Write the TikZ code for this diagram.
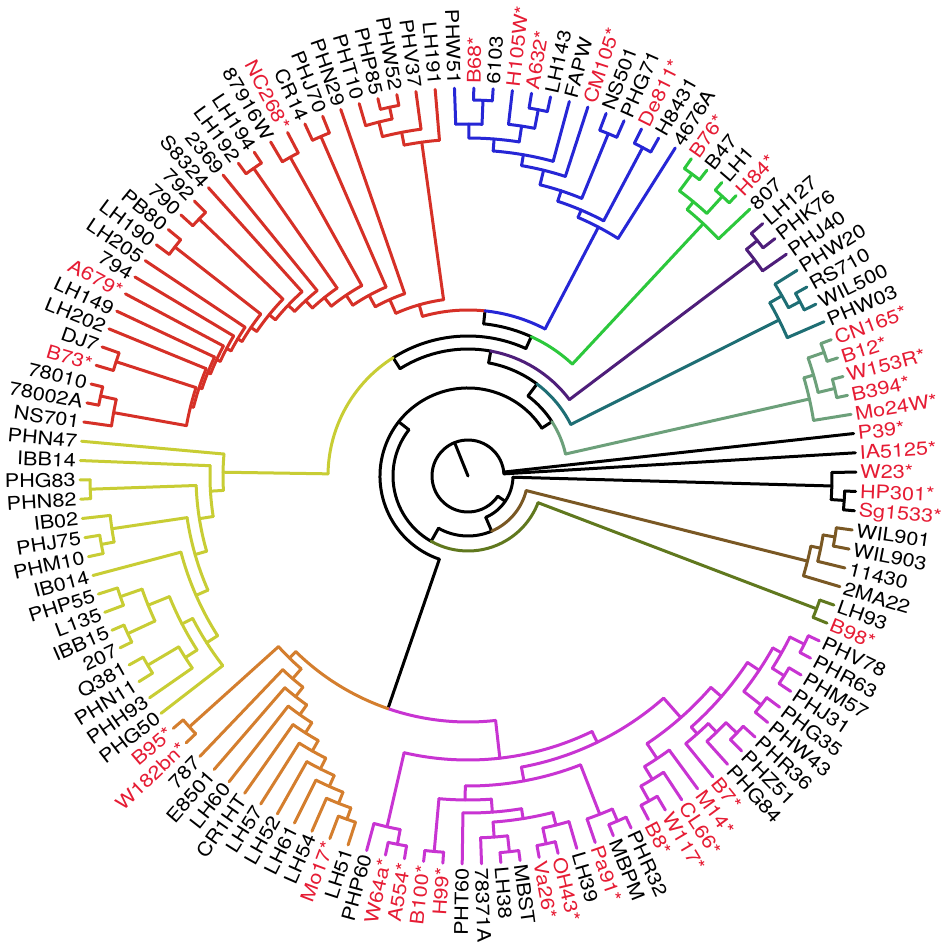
\documentclass[tikz,border=0pt]{standalone}
\usepackage{fontspec}
\setmainfont{TeX Gyre Heros}[FakeStretch=1.15]
\definecolor{rojo}{RGB}{214,48,39}
\definecolor{azul}{RGB}{38,38,214}
\definecolor{verde}{RGB}{44,200,60}
\definecolor{morado}{RGB}{78,30,122}
\definecolor{verdeazul}{RGB}{30,110,116}
\definecolor{salvia}{RGB}{108,160,122}
\definecolor{marron}{RGB}{122,88,36}
\definecolor{oliva}{RGB}{96,120,30}
\definecolor{magenta}{RGB}{200,52,210}
\definecolor{naranja}{RGB}{212,126,46}
\definecolor{amarillo}{RGB}{200,205,52}
\definecolor{rojoet}{RGB}{230,28,52}
\tikzstyle{rama}=[line width=0.06cm,line cap=round]
\tikzstyle{etiqueta}=[font=\fontsize{10.7}{11}\selectfont,inner sep=0pt]
\def\ud{0.02cm}
% leaf position -> angle
\newcommand\pang[1]{(92-(#1-1)*2.857143)}
\newcommand\radial[4][]{\draw[rama,#1] ({\pang{#2}}:#3) -- ({\pang{#2}}:#4);}
\newcommand\arco[4][]{\draw[rama,#1] ({\pang{#3}}:#2) arc[start angle={\pang{#3}},end angle={\pang{#4}},radius=#2*\ud];}
\newcommand\hoja[2]{\radial{#1}{#2}{388}}
\newcommand\cereza[3]{%
  \pgfmathsetmacro\cpa{#1+0.5}\pgfmathsetmacro\cpb{#1+1}%
  \radial{\cpa}{#2}{#3}\arco{#3}{#1}{\cpb}\hoja{#1}{#3}\hoja{\cpb}{#3}}
\newcommand\etiq[3]{%
  \pgfmathsetmacro\la{mod(92-(#1-1)*2.857143+720,360)}%
  \pgfmathtruncatemacro\vuelta{and(\la>90,\la<270)}%
  \ifnum\vuelta=1
    \node[etiqueta,text=#3,anchor=east,rotate=\la-180] (e#1) at (\la:392) {#2};
  \else
    \node[etiqueta,text=#3,anchor=west,rotate=\la] (e#1) at (\la:392) {#2};
  \fi}

\begin{document}
\begin{tikzpicture}[x=\ud,y=\ud]
\fill[white] (-468,-472) rectangle (478,476);
\useasboundingbox (-468,-472) rectangle (478,476);

% espina central
\draw[rama] (0,0) -- (111.85:36);
\draw[rama] (3.43:36) arc[start angle=3.43,end angle=325.83,radius=36*\ud];
\hoja{31}{36}\hoja{32}{36}
\radial{45.16}{36}{45}\arco{45}{33.75}{56.565}
\radial{33.75}{45}{364}\arco{364}{33}{34.5}\hoja{33}{364}\cereza{34}{364}{377}
\radial{56.565}{45}{60}\arco{60}{56.565}{75.005}\arco[marron]{60}{56.565}{38.125}
\radial{75.005}{60}{75}\arco{75}{75.005}{109.51}\arco[oliva]{75}{75.005}{40.5}
\radial{109.51}{75}{88}\arco{88}{71.348}{147.675}
\radial{71.348}{88}{246}\arco[magenta]{246}{71.348}{62.445}\arco[naranja]{246}{71.348}{80.25}
\radial{147.675}{88}{100}\arco{100}{147.675}{140.6}\arco[salvia]{100}{147.675}{154.75}
\radial{140.6}{100}{115}\arco{115}{140.6}{131.315}\arco[verdeazul]{115}{140.6}{149.875}
\radial{131.315}{115}{127}\arco{127}{131.315}{116.38}\arco[morado]{127}{131.315}{146.25}
\radial{116.38}{127}{140}\arco{140}{116.38}{136.25}\arco[amarillo]{140}{116.38}{96.51}
\radial{136.25}{140}{153}\arco{153}{136.25}{129.755}\arco[verde]{153}{136.25}{142.75}
\radial{129.755}{153}{166}\arco[rojo]{166}{129.755}{122.13}\arco[azul]{166}{129.755}{137.38}

% marron y oliva
\begin{scope}[marron]
\radial{38.125}{60}{350}\arco{350}{37.25}{39}\hoja{39}{350}
\radial{37.25}{350}{360}\arco{360}{36.5}{38}\hoja{38}{360}\cereza{36}{360}{372}
\end{scope}
\begin{scope}[oliva]
\cereza{40}{75}{373}
\end{scope}

% magenta
\begin{scope}[magenta]
\radial{62.445}{246}{284}\arco{284}{55.64}{69.25}
\radial{69.25}{284}{360}\arco{360}{68.5}{70}\hoja{70}{360}\cereza{68}{360}{375}
\radial{55.64}{284}{296}\arco{296}{50.22}{61.06}
\radial{61.06}{296}{310}\arco{310}{57.25}{64.875}
\radial{64.875}{310}{324}\arco{324}{63.25}{66.5}\cereza{66}{324}{377}
\radial{63.25}{324}{337}\arco{337}{61.5}{65}\hoja{65}{337}
\radial{61.5}{337}{347}\arco{347}{59.75}{63.25}
\radial{63.25}{347}{362}\arco{362}{62.5}{64}\hoja{64}{362}\cereza{62}{362}{378}
\radial{59.75}{347}{360}\arco{360}{59}{60.5}\hoja{59}{360}\cereza{60}{360}{376}
\radial{57.25}{310}{363}\arco{363}{56.5}{58}\hoja{58}{363}\cereza{56}{363}{376}
\radial{50.22}{296}{322}\arco{322}{47.5625}{52.875}
\radial{47.5625}{322}{336}\arco{336}{45}{50.125}
\radial{45}{336}{350}\arco{350}{43.5}{46.5}
\radial{43.5}{350}{360}\arco{360}{42.5}{44.5}\cereza{42}{360}{376}\cereza{44}{360}{374}
\cereza{46}{350}{372}
\radial{50.125}{336}{345}\arco{345}{49.25}{51}\hoja{51}{345}
\radial{49.25}{345}{357}\arco{357}{48.5}{50}\hoja{50}{357}\cereza{48}{357}{372}
\radial{52.875}{322}{340}\arco{340}{52}{53.75}\hoja{52}{340}
\radial{53.75}{340}{355}\arco{355}{53}{54.5}\hoja{53}{355}\cereza{54}{355}{372}
\end{scope}

% naranja
\begin{scope}[naranja]
\radial{80.25}{246}{255}\arco{255}{79.002}{81.5}\cereza{81}{255}{375}
\foreach \p/\q/\h/\a/\b in {79.002/78.004/80/255/268,78.004/77.008/79/268/280,
  77.008/76.016/78/280/292,76.016/75.031/77/292/304,75.031/74.063/76/304/316,
  74.063/73.125/75/316/328,73.125/72.25/74/328/340,72.25/71.5/73/340/352}
  {\radial{\p}{\a}{\b}\arco{\b}{\q}{\h}\hoja{\h}{\b}}
\cereza{71}{352}{364}
\end{scope}

% amarillo
\begin{scope}[amarillo]
\radial{96.51}{140}{245}\arco{245}{95.02}{98}\hoja{98}{245}
\radial{95.02}{245}{258}\arco{258}{93.04}{97}\hoja{97}{258}
\radial{93.04}{258}{272}\arco{272}{90.58}{95.5}\cereza{95}{272}{378}
\radial{90.58}{272}{284}\arco{284}{87.906}{93.25}
\radial{93.25}{284}{360}\arco{360}{92.5}{94}\hoja{94}{360}\cereza{92}{360}{373}
\radial{87.906}{284}{297}\arco{297}{84.8125}{91}\hoja{91}{297}
\radial{84.8125}{297}{310}\arco{310}{83}{86.625}\hoja{83}{310}
\radial{86.625}{310}{322}\arco{322}{84.75}{88.5}
\radial{84.75}{322}{336}\arco{336}{84}{85.5}\hoja{84}{336}\cereza{85}{336}{372}
\radial{88.5}{322}{345}\arco{345}{87.5}{89.5}\cereza{87}{345}{375}\cereza{89}{345}{368}
\end{scope}

% rojo
\begin{scope}[rojo]
\radial{122.13}{166}{178}\arco{178}{119.33}{124.94}
\radial{124.94}{178}{337}\arco{337}{123.875}{126}\hoja{126}{337}
\radial{123.875}{337}{350}\arco{350}{122.75}{125}\hoja{125}{350}
\radial{122.75}{350}{365}\arco{365}{122}{123.5}\hoja{122}{365}\cereza{123}{365}{377}
\radial{119.33}{178}{193}\arco{193}{117.652}{121}\hoja{121}{193}
\radial{117.652}{193}{206}\arco{206}{115.804}{119.5}\cereza{119}{206}{370}
\radial{115.804}{206}{218}\arco{218}{114.108}{117.5}\cereza{117}{218}{365}
\radial{114.108}{218}{229}\arco{229}{112.717}{115.5}\cereza{115}{229}{375}
\foreach \p/\q/\h/\a/\b in {112.717/111.434/114/229/239,111.434/109.868/113/239/248}
  {\radial{\p}{\a}{\b}\arco{\b}{\q}{\h}\hoja{\h}{\b}}
\radial{109.868}{248}{256}\arco{256}{108.236}{111.5}\cereza{111}{256}{372}
\radial{108.236}{256}{263}\arco{263}{106.97}{109.5}\cereza{109}{263}{372}
\foreach \p/\q/\h/\a/\b in {106.97/105.945/108/263/268,105.945/104.89/107/268/273,
  104.89/103.78/106/273/277,103.78/102.5625/105/277/280,102.5625/101.125/104/280/283}
  {\radial{\p}{\a}{\b}\arco{\b}{\q}{\h}\hoja{\h}{\b}}
\radial{101.125}{283}{286}\arco{286}{99.75}{102.5}\cereza{102}{286}{370}
\radial{99.75}{286}{360}\arco{360}{99}{100.5}\hoja{99}{360}\cereza{100}{360}{376}
\end{scope}

% azul
\begin{scope}[azul]
\radial{137.38}{166}{281}\arco{281}{135.77}{139}\hoja{139}{281}
\radial{135.77}{281}{289}\arco{289}{134.03}{137.5}\cereza{137}{289}{372}
\radial{134.03}{289}{300}\arco{300}{132.5625}{135.5}\cereza{135}{300}{370}
\radial{132.5625}{300}{315}\arco{315}{131.125}{134}\hoja{134}{315}
\radial{131.125}{315}{326}\arco{326}{129.25}{133}\hoja{133}{326}
\radial{129.25}{326}{338}\arco{338}{127.75}{130.75}
\radial{127.75}{338}{352}\arco{352}{127}{128.5}\hoja{127}{352}\cereza{128}{352}{376}
\radial{130.75}{338}{354}\arco{354}{130}{131.5}\hoja{130}{354}\cereza{131}{354}{373}
\end{scope}

% verde, morado, verde azulado, salvia
\begin{scope}[verde]
\radial{142.75}{153}{345}\arco{345}{141.5}{144}\hoja{144}{345}
\radial{141.5}{345}{355}\arco{355}{140.5}{142.5}\cereza{140}{355}{376}\cereza{142}{355}{378}
\end{scope}
\begin{scope}[morado]
\radial{146.25}{127}{359}\arco{359}{145.5}{147}\hoja{147}{359}\cereza{145}{359}{373}
\end{scope}
\begin{scope}[verdeazul]
\radial{149.875}{115}{348}\arco{348}{148.75}{151}\hoja{151}{348}
\radial{148.75}{348}{362}\arco{362}{148}{149.5}\hoja{148}{362}\cereza{149}{362}{375}
\end{scope}
\begin{scope}[salvia]
\radial{154.75}{100}{350}\arco{350}{153.5}{156}\hoja{156}{350}
\radial{153.5}{350}{360}\arco{360}{152.5}{154.5}\cereza{152}{360}{377}\cereza{154}{360}{377}
\end{scope}

% etiquetas
\foreach \t/\c [count=\i from 31] in {P39*/rojoet,IA5125*/rojoet,W23*/rojoet,HP301*/rojoet,
  Sg1533*/rojoet,WIL901/black,WIL903/black,11430/black,2MA22/black,LH93/black,B98*/rojoet,
  PHV78/black,PHR63/black,PHM57/black,PHJ31/black,PHG35/black,PHW43/black,PHR36/black,
  PHZ51/black,PHG84/black,B7*/rojoet,M14*/rojoet,CL66*/rojoet,W117*/rojoet,B8*/rojoet,
  PHR32/black,MBPM/black,Pa91*/rojoet,LH39/black,OH43*/rojoet,Va26*/rojoet,MBST/black,
  LH38/black,78371A/black,PHT60/black,H99*/rojoet,B100*/rojoet,A554*/rojoet,W64a*/rojoet,
  PHP60/black,LH51/black,Mo17*/rojoet,LH54/black,LH61/black,LH52/black,LH57/black,
  CR1HT/black,LH60/black,E8501/black,787/black,W182bn*/rojoet,B95*/rojoet,PHG50/black,
  PHH93/black,PHN11/black,Q381/black,207/black,IBB15/black,L135/black,PHP55/black,
  IB014/black,PHM10/black,PHJ75/black,IB02/black,PHN82/black,PHG83/black,IBB14/black,
  PHN47/black,NS701/black,78002A/black,78010/black,B73*/rojoet,DJ7/black,LH202/black,
  LH149/black,A679*/rojoet,794/black,LH205/black,LH190/black,PB80/black,790/black,
  792/black,S8324/black,2369/black,LH192/black,LH194/black,87916W/black,NC268*/rojoet,
  CR14/black,PHJ70/black,PHN29/black,PHT10/black,PHP85/black,PHW52/black,PHV37/black,
  LH191/black,PHW51/black,B68*/rojoet,6103/black,H105W*/rojoet,A632*/rojoet,LH143/black,
  FAPW/black,CM105*/rojoet,NS501/black,PHG71/black,De811*/rojoet,H8431/black,4676A/black,
  B76*/rojoet,B47/black,LH1/black,H84*/rojoet,807/black,LH127/black,PHK76/black,
  PHJ40/black,PHW20/black,RS710/black,WIL500/black,PHW03/black,CN165*/rojoet,B12*/rojoet,
  W153R*/rojoet,B394*/rojoet,Mo24W*/rojoet}
  {\etiq{\i}{\t}{\c}}
\end{tikzpicture}
\end{document}
